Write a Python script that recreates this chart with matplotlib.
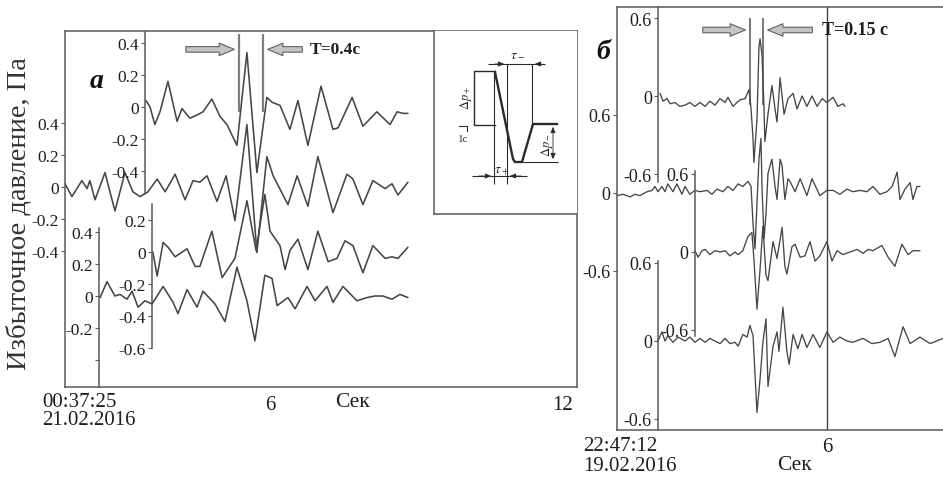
import numpy as np
import matplotlib
matplotlib.use('Agg')
import matplotlib.pyplot as plt

plt.rcParams['font.family'] = ['Liberation Serif', 'DejaVu Serif']
plt.rcParams['mathtext.fontset'] = 'stix'

# ---- данные (время, с; давление, Па) ----
# панель а, 21.02.2016
a1_t = [1.65, 1.79, 1.96, 2.14, 2.42, 2.74, 2.91, 3.19, 3.44, 3.65, 3.96, 4.25, 4.49, 4.84, 5.19, 5.54,
        5.89, 6.07, 6.35, 6.70, 6.98, 7.33, 7.79, 8.21, 8.39, 8.88, 9.26, 9.75, 10.21, 10.46, 10.67, 10.84]
a1_p = [0.04, 0.00, -0.11, -0.03, 0.16, -0.09, -0.01, -0.07, -0.05, -0.03, 0.05, -0.06, -0.11, -0.24, 0.34, -0.41,
        0.06, 0.03, 0.01, -0.14, 0.04, -0.24, 0.13, -0.14, -0.13, 0.06, -0.12, -0.03, -0.11, -0.03, -0.04, -0.04]

a2_t = [-1.19, -0.95, -0.60, -0.42, -0.32, -0.14, 0.21, 0.56, 0.91, 1.19, 1.44, 1.72, 2.04, 2.32, 2.67, 3.02,
        3.30, 3.54, 3.79, 4.14, 4.46, 4.77, 5.19, 5.54, 5.89, 6.11, 6.63, 6.95, 7.33, 7.68, 8.21, 8.70, 8.91,
        9.26, 9.61, 10.04, 10.28, 10.49, 10.84]
a2_p = [0.02, -0.06, 0.04, -0.01, 0.04, -0.08, 0.09, -0.15, 0.09, -0.03, -0.06, -0.03, 0.05, -0.03, 0.08, -0.08,
        0.04, 0.03, 0.07, -0.09, 0.07, -0.21, 0.39, -0.41, 0.19, 0.07, -0.11, 0.07, -0.12, 0.19, -0.16, 0.08, 0.05,
        -0.11, 0.04, -0.01, 0.02, -0.05, 0.03]

a3_t = [1.89, 2.04, 2.25, 2.42, 2.67, 3.09, 3.37, 3.54, 3.96, 4.32, 4.77, 5.19, 5.51, 5.82, 6.00, 6.35, 6.53,
        6.70, 6.98, 7.33, 7.68, 8.04, 8.35, 8.63, 8.91, 9.26, 9.61, 10.04, 10.28, 10.49, 10.84]
a3_p = [0.00, -0.15, 0.06, 0.03, -0.03, 0.02, -0.09, -0.09, 0.13, -0.16, -0.04, 0.32, 0.01, 0.36, 0.13, 0.04, -0.11,
        0.01, 0.08, -0.11, 0.13, -0.06, -0.04, 0.07, 0.04, -0.13, 0.04, -0.04, -0.03, -0.04, 0.03]

a4_t = [0.04, 0.28, 0.56, 0.74, 0.98, 1.16, 1.37, 1.61, 1.86, 2.25, 2.60, 2.77, 3.09, 3.44, 3.65, 4.07, 4.42,
        4.84, 5.19, 5.47, 5.82, 6.07, 6.25, 6.63, 6.88, 7.30, 7.58, 8.00, 8.21, 8.56, 9.05, 9.40, 9.68, 9.96,
        10.28, 10.56, 10.84]
a4_p = [-0.01, 0.09, 0.00, 0.01, -0.02, 0.03, -0.07, -0.03, -0.05, 0.06, -0.04, -0.11, 0.04, -0.07, 0.03, -0.05, -0.16,
        0.18, -0.03, -0.28, 0.13, 0.11, -0.06, -0.01, -0.08, 0.06, -0.03, 0.06, -0.04, 0.06, -0.03, -0.01, 0.00, 0.00,
        -0.02, 0.01, -0.01]

# панель б, 19.02.2016
b1_t = [0.07, 0.18, 0.32, 0.43, 0.60, 0.78, 0.96, 1.13, 1.31, 1.49, 1.67, 1.84, 2.02, 2.20, 2.38, 2.48, 2.66,
        2.80, 2.91, 3.09, 3.23, 3.30, 3.37, 3.40, 3.51, 3.58, 3.62, 3.69, 3.76, 3.79, 3.90, 4.04, 4.15, 4.22,
        4.33, 4.47, 4.61, 4.79, 4.93, 5.11, 5.28, 5.46, 5.64, 5.82, 5.99, 6.21, 6.38, 6.56, 6.63]
b1_p = [0.02, -0.04, -0.02, -0.06, -0.05, -0.08, -0.07, -0.05, -0.08, -0.05, -0.08, -0.04, -0.07, -0.02, -0.05, -0.01, -0.08,
        -0.05, -0.03, -0.02, 0.05, -0.10, -0.33, -0.51, -0.18, 0.38, 0.44, 0.31, -0.10, -0.35, -0.14, 0.08, -0.10, -0.20,
        0.14, -0.14, -0.02, 0.02, -0.10, 0.00, -0.08, 0.00, -0.08, -0.02, -0.05, -0.01, -0.08, -0.06, -0.08]

b2_t = [-1.45, -1.24, -0.99, -0.82, -0.64, -0.39, -0.21, -0.11, 0.00, 0.14, 0.25, 0.35, 0.53, 0.67, 0.85, 0.96,
        1.13, 1.31, 1.49, 1.74, 1.91, 2.09, 2.30, 2.48, 2.66, 2.84, 3.01, 3.19, 3.30, 3.37, 3.44, 3.51, 3.58,
        3.65, 3.69, 3.76, 3.83, 3.90, 4.04, 4.15, 4.22, 4.33, 4.40, 4.50, 4.61, 4.68, 4.86, 5.04, 5.28, 5.46,
        5.74, 5.99, 6.21, 6.45, 6.70, 6.91, 7.16, 7.41, 7.62, 7.87, 8.12, 8.30, 8.48, 8.58, 8.76, 8.94, 9.04,
        9.18, 9.29]
b2_p = [-0.02, -0.01, -0.03, -0.01, -0.02, 0.01, 0.02, 0.05, 0.01, 0.05, 0.01, 0.07, 0.01, 0.07, -0.01, 0.05,
        -0.01, 0.02, 0.01, 0.02, -0.01, 0.03, 0.01, 0.05, 0.02, 0.07, 0.05, 0.09, 0.05, -0.24, -0.43, -0.08, 0.26,
        0.42, 0.03, -0.35, -0.16, 0.15, 0.26, 0.05, -0.05, 0.26, 0.21, -0.05, 0.11, 0.09, 0.01, 0.11, -0.02, 0.11,
        -0.02, 0.02, 0.02, -0.01, 0.03, 0.01, 0.02, 0.01, 0.05, -0.01, 0.01, 0.05, 0.16, -0.05, 0.03, 0.08, -0.05,
        0.05, 0.05]

b3_t = [1.31, 1.42, 1.56, 1.67, 1.84, 2.02, 2.20, 2.38, 2.55, 2.73, 2.84, 3.01, 3.19, 3.33, 3.40, 3.51, 3.62,
        3.72, 3.83, 3.90, 4.08, 4.22, 4.40, 4.50, 4.57, 4.75, 4.86, 5.04, 5.21, 5.39, 5.57, 5.74, 5.99, 6.17,
        6.35, 6.56, 6.81, 7.06, 7.27, 7.45, 7.62, 7.94, 8.16, 8.40, 8.65, 8.87, 9.04, 9.29]
b3_p = [0.01, -0.04, 0.01, 0.02, -0.02, 0.01, 0.00, 0.01, -0.03, 0.00, -0.02, 0.01, 0.12, 0.15, -0.05, -0.44, -0.13,
        0.20, -0.18, -0.22, 0.08, -0.05, 0.19, -0.11, -0.17, 0.04, 0.06, -0.04, -0.03, 0.08, -0.07, -0.03, 0.08, -0.07,
        0.01, -0.02, 0.00, 0.02, -0.01, 0.02, 0.01, 0.05, -0.04, -0.11, 0.06, -0.02, 0.01, 0.01]

b4_t = [0.00, 0.14, 0.25, 0.35, 0.53, 0.71, 0.96, 1.13, 1.31, 1.49, 1.67, 1.84, 2.02, 2.20, 2.38, 2.55, 2.73,
        2.84, 3.01, 3.16, 3.26, 3.37, 3.51, 3.62, 3.72, 3.83, 3.90, 4.08, 4.22, 4.29, 4.43, 4.57, 4.65, 4.79,
        4.96, 5.11, 5.28, 5.50, 5.74, 5.99, 6.21, 6.45, 6.70, 6.91, 7.27, 7.59, 7.87, 8.16, 8.40, 8.69, 8.94,
        9.29, 9.65, 10.11]
b4_p = [0.00, 0.07, 0.00, 0.04, -0.01, 0.03, 0.00, 0.03, -0.01, 0.02, -0.01, 0.02, 0.00, -0.02, 0.02, -0.02, -0.01,
        -0.04, 0.05, 0.03, 0.12, 0.04, -0.55, -0.29, -0.01, 0.17, -0.35, -0.04, 0.07, -0.08, 0.26, -0.08, -0.18, 0.05,
        -0.06, 0.05, -0.05, 0.05, -0.05, 0.07, -0.01, 0.03, 0.00, -0.01, 0.02, -0.02, -0.01, 0.02, -0.12, 0.11, -0.02,
        0.03, -0.02, 0.02]

# метки периода T
a_T_marks = [4.91, 5.75]
b_T_marks = [3.26, 3.72]

# схема импульса (условные единицы)
pulse_x = [61, 79, 81, 88, 99, 123]
pulse_y = [142, 55, 52, 52, 90, 90]
scale_x = [61, 40, 40, 61]
scale_y = [143, 143, 89, 89]

W, H = 943, 481
INK = '#464646'
FRAME = '#5a5a5a'
TXT = '#1e1e1e'

fig = plt.figure(figsize=(W / 100, H / 100), dpi=100)


def px_box(x0, top, x1, bottom):
    return [x0 / W, 1 - bottom / H, (x1 - x0) / W, (bottom - top) / H]


def make_axes(x0, top, x1, bottom, base, t0_px, pps, ppu, sides=('left',), lsize=12.5):
    ax = fig.add_axes(px_box(x0, top, x1, bottom))
    ax.set_xlim((x0 - t0_px) / pps, (x1 - t0_px) / pps)
    ax.set_ylim((base - bottom) / ppu, (base - top) / ppu)
    ax.patch.set_visible(False)
    for s in ax.spines:
        ax.spines[s].set_visible(s in sides)
        ax.spines[s].set_color(FRAME)
        ax.spines[s].set_linewidth(1.1)
    ax.tick_params(axis='y', direction='out', length=3, width=0.8, color=FRAME,
                   pad=1.5, labelsize=lsize, labelcolor=TXT)
    ax.tick_params(axis='x', length=0, labelsize=15, labelcolor=TXT, pad=6)
    if 'bottom' not in sides:
        ax.set_xticks([])
    return ax


def trace(ax, t, p, lw):
    ax.plot(t, p, color=INK, lw=lw, clip_on=False,
            solid_joinstyle='round', solid_capstyle='round')


def fx(x):
    return x / W


def fy(y):
    return 1 - y / H


# ================= панель а =================
A0, APPS, APPU = 99, 28.5, 160
ax_a = make_axes(65, 32, 577, 388, 188, A0, APPS, APPU, sides=('left', 'top', 'bottom', 'right'))
ax_a.set_yticks([0.4, 0.2, 0, -0.2, -0.4], ['0.4', '0.2', '0', '-0.2', '-0.4'])
ax_a.set_xticks([6, 16.28], ['6', '12'])
trace(ax_a, a2_t, a2_p, 1.15)

ax_a1 = make_axes(145, 33, 577, 195, 108, A0, APPS, APPU)
ax_a1.set_yticks([0.4, 0.2, 0, -0.2, -0.4], ['0.4', '0.2', '0', '-0.2', '-0.4'])
trace(ax_a1, a1_t, a1_p, 1.15)

ax_a3 = make_axes(152, 205, 577, 349, 253, A0, APPS, APPU)
ax_a3.set_yticks([0.2, 0, -0.2, -0.4, -0.6], ['0.2', '0', '-0.2', '-0.4', '-0.6'])
trace(ax_a3, a3_t, a3_p, 1.15)

ax_a4 = make_axes(99, 229, 577, 388, 297, A0, APPS, APPU)
ax_a4.set_yticks([0.4, 0.2, 0, -0.2, -0.4], ['0.4', '0.2', '0', '-0.2', ''])
trace(ax_a4, a4_t, a4_p, 1.15)

# период T = 0.4 c
ax_a.vlines(a_T_marks, 0.47, 0.956, color='#808080', lw=1.6)
arr = dict(arrowstyle='simple,head_length=1.1,head_width=0.9,tail_width=0.4',
           fc='#c4c4c4', ec='#606060', lw=0.8)
ax_a.annotate('', xy=(a_T_marks[0] - 0.06, 0.86), xytext=(2.95, 0.86), arrowprops=arr)
ax_a.annotate('', xy=(a_T_marks[1] + 0.07, 0.86), xytext=(7.23, 0.86), arrowprops=arr)
ax_a.text(7.40, 0.86, 'T=0.4c', fontsize=12.5, fontweight='bold', va='center', ha='left', color=TXT)

fig.text(fx(97), fy(82), 'а', fontsize=20, fontstyle='italic', fontweight='bold',
         ha='center', va='center', color='#111')
fig.text(fx(42), fy(403), '00:37:25', fontsize=15, ha='left', va='center', color=TXT)
fig.text(fx(42), fy(421), '21.02.2016', fontsize=15, ha='left', va='center', color=TXT)
fig.text(fx(352), fy(403), 'Сек', fontsize=15.5, ha='center', va='center', color=TXT)
fig.text(fx(19), fy(214), 'Избыточное давление, Па', fontsize=20.5, rotation=90,
         ha='center', va='center', color='#333')

# схема импульса
ins = fig.add_axes(px_box(434, 32, 577, 215))
ins.set_xlim(0, 143)
ins.set_ylim(0, 183)
ins.set_xticks([])
ins.set_yticks([])
for s in ins.spines:
    ins.spines[s].set_visible(s in ('left', 'bottom'))
    ins.spines[s].set_color(FRAME)
    ins.spines[s].set_linewidth(1.1)
dk = '#2a2a2a'
ins.plot(pulse_x, pulse_y, color=dk, lw=1.7)
ins.plot(scale_x, scale_y, color=dk, lw=1.0)
ins.vlines([60, 73], 30, [142, 150], color=dk, lw=0.8)
ins.vlines(98, 90, 150, color=dk, lw=0.8)
ins.hlines(150, 54, 111, color=dk, lw=0.8)
ins.hlines(38, 38, 93, color=dk, lw=0.8)
ins.hlines(52, 88, 124, color=dk, lw=0.8)
small = dict(arrowstyle='-|>,head_length=0.35,head_width=0.15', color=dk, lw=0.6)
ins.annotate('', xy=(73, 150), xytext=(58, 150), arrowprops=small)
ins.annotate('', xy=(98, 150), xytext=(110, 150), arrowprops=small)
ins.annotate('', xy=(60, 38), xytext=(42, 38), arrowprops=small)
ins.annotate('', xy=(73, 38), xytext=(90, 38), arrowprops=small)
ins.annotate('', xy=(119, 90), xytext=(119, 52),
             arrowprops=dict(arrowstyle='<|-|>,head_length=0.35,head_width=0.15', color=dk, lw=0.6))
ins.plot([25, 33, 33], [88, 88, 83], color=dk, lw=0.8)
ins.text(84, 160, r'$\tau_-$', fontsize=10, ha='center', va='center', color=dk)
ins.text(68, 44, r'$\tau_+$', fontsize=10, ha='center', va='center', color=dk)
ins.text(32, 117, r'$\Delta p_+$', fontsize=9, rotation=90, ha='center', va='center', color=dk)
ins.text(113, 70, r'$\Delta p_-$', fontsize=9, rotation=90, ha='center', va='center', color=dk)
ins.text(29, 76, '1c', fontsize=8, ha='center', va='center', color=dk)

# ================= панель б =================
B0, BPPS, BPPU = 658, 28.2, 130
ax_b = make_axes(617, 8, 943, 431, 194, B0, BPPS, BPPU, sides=('left', 'top', 'bottom'), lsize=13)
ax_b.set_yticks([0.6, 0, -0.6], ['0.6', '0', '-0.6'])
ax_b.set_xticks([6], ['6'])
ax_b.tick_params(axis='x', pad=5)
ax_b.axvline(6, color='#444', lw=1.0)
trace(ax_b, b2_t, b2_p, 0.95)

ax_b1 = make_axes(658, 8, 943, 183, 97, B0, BPPS, BPPU, lsize=13)
ax_b1.set_yticks([0.6, 0, -0.6], ['0.6', '0', '-0.6'])
trace(ax_b1, b1_t, b1_p, 0.95)

ax_b3 = make_axes(695, 172, 943, 337, 253, B0, BPPS, BPPU, lsize=13)
ax_b3.set_yticks([0.6, 0, -0.6], ['0.6', '0', '-0.6'])
trace(ax_b3, b3_t, b3_p, 0.95)

ax_b4 = make_axes(658, 262, 943, 431, 342, B0, BPPS, BPPU, lsize=13)
ax_b4.set_yticks([0.6, 0, -0.6], ['0.6', '0', '-0.6'])
trace(ax_b4, b4_t, b4_p, 0.95)

# период T = 0.15 c
ax_b.vlines(b_T_marks, 0.68, 1.35, color='#555', lw=1.1)
ax_b.annotate('', xy=(b_T_marks[0] - 0.06, 1.254), xytext=(1.49, 1.254), arrowprops=arr)
ax_b.annotate('', xy=(b_T_marks[1] + 0.07, 1.254), xytext=(5.57, 1.254), arrowprops=arr)
ax_b.text(5.82, 1.254, 'T=0.15 c', fontsize=13, fontweight='bold', va='center', ha='left', color=TXT)

fig.text(fx(603), fy(53), 'б', fontsize=20, fontstyle='italic', fontweight='bold',
         ha='center', va='center', color='#111')
fig.text(fx(583), fy(447), '22:47:12', fontsize=15, ha='left', va='center', color=TXT)
fig.text(fx(583), fy(467), '19.02.2016', fontsize=15, ha='left', va='center', color=TXT)
fig.text(fx(795), fy(466), 'Сек', fontsize=15.5, ha='center', va='center', color=TXT)

plt.savefig('out.png', dpi=100)
